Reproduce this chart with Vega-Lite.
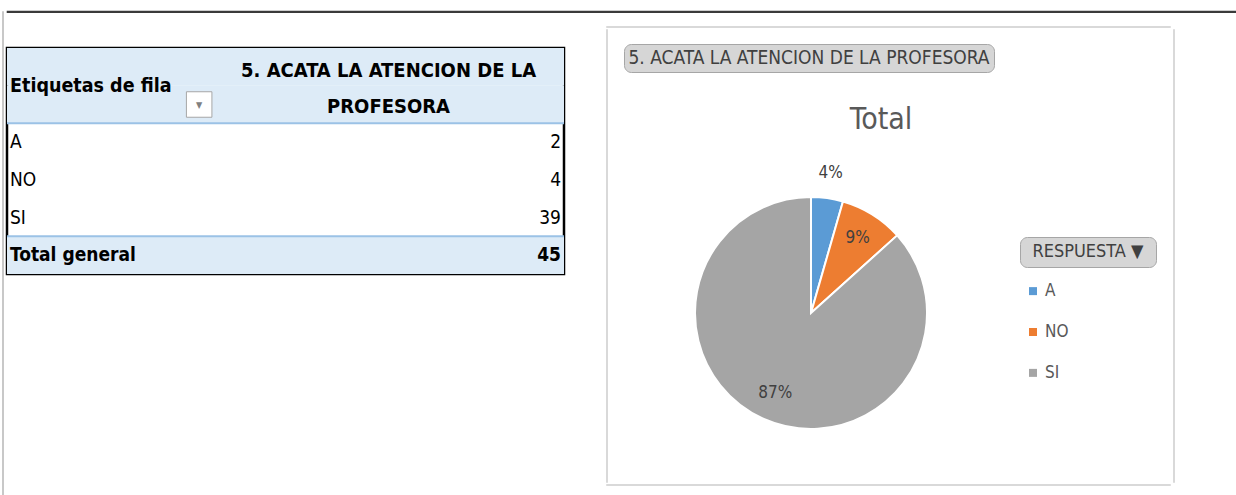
{
  "$schema": "https://vega.github.io/schema/vega-lite/v6.json",
  "padding": {"left": 1, "top": 10, "right": 0, "bottom": 0},
  "background": "white",
  "config": {
    "view": {"stroke": null},
    "font": "Liberation Sans Narrow, DejaVu Sans Condensed, Liberation Sans",
    "text": {"font": "Liberation Sans Narrow, DejaVu Sans Condensed, Liberation Sans"},
    "title": {"font": "Liberation Sans Narrow, DejaVu Sans Condensed, Liberation Sans"}
  },
  "datasets": {
    "tabla": [
      {"fila": "A", "valor": 2},
      {"fila": "NO", "valor": 4},
      {"fila": "SI", "valor": 39},
      {"fila": "Total general", "valor": 45}
    ],
    "respuestas": [
      {"respuesta": "A", "cantidad": 2, "etiqueta": "4%"},
      {"respuesta": "NO", "cantidad": 4, "etiqueta": "9%"},
      {"respuesta": "SI", "cantidad": 39, "etiqueta": "87%"}
    ],
    "vacio": []
  },
  "spacing": 0,
  "hconcat": [
    {
      "width": 1,
      "height": 485,
      "view": {"stroke": "#C8C8C8", "strokeWidth": 1},
      "data": {"name": "vacio"},
      "mark": "point"
    },
    {
      "spacing": 12,
      "vconcat": [
        {
          "width": 1229,
          "height": 1,
          "view": {"stroke": "#3A3A3A", "strokeWidth": 1.2},
          "data": {"name": "vacio"},
          "mark": "point"
        },
        {
          "spacing": 38,
          "hconcat": [
            {
              "spacing": 0,
              "vconcat": [
                {"width": 1, "height": 20, "data": {"name": "vacio"}, "mark": "point"},
                {
                  "width": 557,
                  "height": 226,
                  "view": {"stroke": "#000000", "strokeWidth": 2.5},
                  "layer": [
                    {
                      "data": {"values": [{"fila": "h1"}, {"fila": "h2"}, {"fila": "Total general"}]},
                      "mark": {"type": "rect", "fill": "#DDEBF7"},
                      "encoding": {
                        "y": {"field": "fila", "type": "nominal", "scale": {"domain": ["h1", "h2", "A", "NO", "SI", "Total general"], "paddingInner": 0, "paddingOuter": 0}, "axis": null}
                      }
                    },
                    {
                      "data": {"values": [{"fila": "A"}, {"fila": "Total general"}]},
                      "mark": {"type": "rule", "color": "#9BC2E6", "strokeWidth": 2},
                      "encoding": {
                        "y": {"field": "fila", "type": "nominal", "bandPosition": 0, "axis": null}
                      }
                    },
                    {
                      "data": {"name": "tabla"},
                      "transform": [{"filter": "datum.fila !== 'Total general'"}],
                      "layer": [
                        {
                          "mark": {"type": "text", "align": "left", "dx": 3, "fontSize": 19, "fill": "#000000"},
                          "encoding": {
                            "y": {"field": "fila", "type": "nominal", "axis": null},
                            "x": {"datum": 0, "type": "quantitative", "scale": {"domain": [0, 1]}, "axis": null},
                            "text": {"field": "fila"}
                          }
                        },
                        {
                          "mark": {"type": "text", "align": "right", "dx": -3, "fontSize": 19, "fill": "#000000"},
                          "encoding": {
                            "y": {"field": "fila", "type": "nominal", "axis": null},
                            "x": {"datum": 1, "type": "quantitative", "axis": null},
                            "text": {"field": "valor"}
                          }
                        }
                      ]
                    },
                    {
                      "data": {"name": "tabla"},
                      "transform": [{"filter": "datum.fila === 'Total general'"}],
                      "layer": [
                        {
                          "mark": {"type": "text", "align": "left", "dx": 3, "fontSize": 19, "fontWeight": "bold", "fill": "#000000"},
                          "encoding": {
                            "y": {"field": "fila", "type": "nominal", "axis": null},
                            "x": {"datum": 0, "type": "quantitative", "axis": null},
                            "text": {"field": "fila"}
                          }
                        },
                        {
                          "mark": {"type": "text", "align": "right", "dx": -3, "fontSize": 19, "fontWeight": "bold", "fill": "#000000"},
                          "encoding": {
                            "y": {"field": "fila", "type": "nominal", "axis": null},
                            "x": {"datum": 1, "type": "quantitative", "axis": null},
                            "text": {"field": "valor"}
                          }
                        }
                      ]
                    },
                    {
                      "data": {"values": [{"fila": "h1", "texto": "5. ACATA LA ATENCION DE LA"}]},
                      "mark": {"type": "text", "align": "center", "dy": 4, "fontSize": 20, "fontWeight": "bold", "fill": "#000000"},
                      "encoding": {
                        "y": {"field": "fila", "type": "nominal", "axis": null},
                        "x": {"datum": 0.685, "type": "quantitative", "axis": null},
                        "text": {"field": "texto"}
                      }
                    },
                    {
                      "data": {"values": [{"fila": "h2", "texto": "PROFESORA"}]},
                      "mark": {"type": "text", "align": "center", "dy": 2, "fontSize": 20, "fontWeight": "bold", "fill": "#000000"},
                      "encoding": {
                        "y": {"field": "fila", "type": "nominal", "axis": null},
                        "x": {"datum": 0.685, "type": "quantitative", "axis": null},
                        "text": {"field": "texto"}
                      }
                    },
                    {
                      "data": {"values": [{"fila": "h2", "texto": "Etiquetas de fila"}]},
                      "mark": {"type": "text", "align": "left", "dx": 3, "fontSize": 19.5, "fontWeight": "bold", "fill": "#000000"},
                      "encoding": {
                        "y": {"field": "fila", "type": "nominal", "bandPosition": 0, "axis": null},
                        "x": {"datum": 0, "type": "quantitative", "axis": null},
                        "text": {"field": "texto"}
                      }
                    },
                    {
                      "data": {"values": [{"fila": "h2", "texto": "▼"}]},
                      "layer": [
                        {
                          "mark": {"type": "square", "size": 650, "fill": "#FFFFFF", "stroke": "#A6A6A6", "strokeWidth": 1, "opacity": 1},
                          "encoding": {
                            "y": {"field": "fila", "type": "nominal", "axis": null},
                            "x": {"datum": 0.345, "type": "quantitative", "axis": null}
                          }
                        },
                        {
                          "mark": {"type": "text", "align": "center", "fontSize": 9, "fill": "#808080"},
                          "encoding": {
                            "y": {"field": "fila", "type": "nominal", "axis": null},
                            "x": {"datum": 0.345, "type": "quantitative", "axis": null},
                            "text": {"field": "texto"}
                          }
                        }
                      ]
                    }
                  ]
                }
              ]
            },
            {
              "spacing": 0,
              "vconcat": [
                {
                  "width": 564,
                  "height": 1,
                  "view": {"stroke": "#D9D9D9", "strokeWidth": 1},
                  "data": {"name": "vacio"},
                  "mark": "point"
                },
                {
                  "spacing": 15,
                  "hconcat": [
                    {
                      "width": 1,
                      "height": 453,
                      "view": {"stroke": "#D9D9D9", "strokeWidth": 1},
                      "data": {"name": "vacio"},
                      "mark": "point"
                    },
                    {
                      "spacing": 0,
                      "vconcat": [
                        {"width": 1, "height": 14, "data": {"name": "vacio"}, "mark": "point"},
                        {
                          "spacing": 32,
                          "vconcat": [
                            {
                              "width": 370,
                              "height": 28,
                              "view": {"fill": "#D6D6D6", "stroke": "#A6A6A6", "strokeWidth": 1, "cornerRadius": 7},
                              "data": {"values": [{"texto": "5. ACATA LA ATENCION DE LA PROFESORA"}]},
                              "mark": {"type": "text", "align": "center", "baseline": "middle", "fontSize": 19, "fill": "#404040"},
                              "encoding": {"text": {"field": "texto"}}
                            },
                            {
                              "spacing": 21,
                              "hconcat": [
                                {
                                  "width": 374,
                                  "height": 322,
                                  "title": {"text": "Total", "fontSize": 30, "fontWeight": "normal", "color": "#595959", "anchor": "middle", "dx": 70, "offset": 17},
                                  "data": {"name": "respuestas"},
                                  "layer": [
                                    {
                                      "mark": {"type": "arc", "radius": 116, "stroke": "#FFFFFF", "strokeWidth": 2},
                                      "encoding": {
                                        "theta": {"field": "cantidad", "type": "quantitative", "stack": true},
                                        "color": {"field": "respuesta", "type": "nominal", "scale": {"domain": ["A", "NO", "SI"], "range": ["#5B9BD5", "#ED7D31", "#A5A5A5"]}, "legend": null},
                                        "order": {"field": "respuesta"}
                                      }
                                    },
                                    {
                                      "mark": {"type": "text", "radius": 141, "fontSize": 17, "fill": "#404040"},
                                      "encoding": {
                                        "theta": {"field": "cantidad", "type": "quantitative", "stack": true},
                                        "detail": {"field": "respuesta", "type": "nominal"},
                                        "order": {"field": "respuesta"},
                                        "text": {"condition": {"test": "datum.respuesta === 'A'", "field": "etiqueta"}, "value": ""}
                                      }
                                    },
                                    {
                                      "mark": {"type": "text", "radius": 88, "fontSize": 17, "fill": "#404040"},
                                      "encoding": {
                                        "theta": {"field": "cantidad", "type": "quantitative", "stack": true},
                                        "detail": {"field": "respuesta", "type": "nominal"},
                                        "order": {"field": "respuesta"},
                                        "text": {"condition": {"test": "datum.respuesta !== 'A'", "field": "etiqueta"}, "value": ""}
                                      }
                                    }
                                  ]
                                },
                                {
                                  "spacing": 8,
                                  "vconcat": [
                                    {"width": 1, "height": 76, "data": {"name": "vacio"}, "mark": "point"},
                                    {
                                      "width": 136,
                                      "height": 30,
                                      "view": {"fill": "#D6D6D6", "stroke": "#A6A6A6", "strokeWidth": 1, "cornerRadius": 7},
                                      "data": {"values": [{"texto": "RESPUESTA   ▼"}]},
                                      "mark": {"type": "text", "align": "center", "baseline": "middle", "fontSize": 18, "fill": "#404040"},
                                      "encoding": {"text": {"field": "texto"}}
                                    },
                                    {
                                      "width": 26,
                                      "height": 112,
                                      "data": {"name": "respuestas"},
                                      "layer": [
                                        {
                                          "mark": {"type": "square", "size": 64, "opacity": 1},
                                          "encoding": {
                                            "y": {"field": "respuesta", "type": "nominal", "scale": {"type": "point", "padding": 0.37}, "axis": null},
                                            "color": {"field": "respuesta", "type": "nominal", "scale": {"domain": ["A", "NO", "SI"], "range": ["#5B9BD5", "#ED7D31", "#A5A5A5"]}, "legend": null}
                                          }
                                        },
                                        {
                                          "mark": {"type": "text", "align": "left", "dx": 12, "fontSize": 17, "fill": "#595959"},
                                          "encoding": {
                                            "y": {"field": "respuesta", "type": "nominal", "axis": null},
                                            "text": {"field": "respuesta"}
                                          }
                                        }
                                      ]
                                    }
                                  ]
                                }
                              ]
                            }
                          ]
                        }
                      ]
                    },
                    {
                      "width": 1,
                      "height": 453,
                      "view": {"stroke": "#D9D9D9", "strokeWidth": 1},
                      "data": {"name": "vacio"},
                      "mark": "point"
                    }
                  ]
                },
                {
                  "width": 564,
                  "height": 1,
                  "view": {"stroke": "#D9D9D9", "strokeWidth": 1},
                  "data": {"name": "vacio"},
                  "mark": "point"
                }
              ]
            }
          ]
        }
      ]
    },
    {
      "width": 1,
      "height": 485,
      "view": {"stroke": "#3A3A3A", "strokeWidth": 1},
      "data": {"name": "vacio"},
      "mark": "point"
    }
  ]
}
